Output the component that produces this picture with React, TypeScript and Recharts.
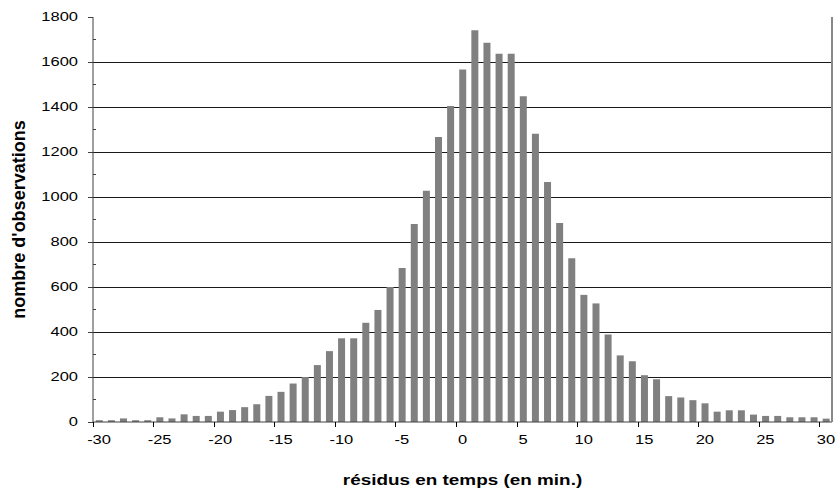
import React from 'react';
import { BarChart, Bar, XAxis, YAxis, CartesianGrid, Label } from 'recharts';

// residual (minutes) for each bar
const residuals = [
  -30, -29, -28, -27, -26, -25, -24, -23, -22, -21, -20, -19, -18, -17, -16, -15, -14, -13, -12, -11, -10,
  -9, -8, -7, -6, -5, -4, -3, -2, -1, 0, 1, 2, 3, 4, 5, 6, 7, 8, 9, 10,
  11, 12, 13, 14, 15, 16, 17, 18, 19, 20, 21, 22, 23, 24, 25, 26, 27, 28, 29, 30,
];

// number of observations per residual
const observations = [
  8, 8, 16, 8, 8, 21, 16, 34, 27, 27, 46, 53, 66, 79, 116, 134, 171, 200, 253, 315, 372,
  372, 441, 498, 600, 684, 880, 1028, 1267, 1404, 1567, 1741, 1686, 1637, 1637, 1448, 1281, 1067, 885, 728, 565,
  527, 389, 296, 270, 208, 190, 115, 109, 97, 83, 46, 52, 52, 33, 27, 27, 21, 21, 21, 15,
];

const yTicks = [0, 100, 200, 300, 400, 500, 600, 700, 800, 900, 1000, 1100, 1200, 1300, 1400, 1500, 1600, 1700, 1800];
const gridValues = [200, 400, 600, 800, 1000, 1200, 1400, 1600];

const data = residuals.map((r, i) => ({ x: r, n: observations[i] }));

const FONT = '"Liberation Sans", Arial, sans-serif';
const STRETCH = 1.27;

const YTick = (props: any) => {
  const { x, y, payload } = props;
  const v = payload.value;
  if (v % 200 !== 0) {
    return <line x1={x} x2={x + 3} y1={y} y2={y} stroke="#404040" shapeRendering="crispEdges" />;
  }
  return (
    <g>
      <line x1={x - 5} x2={x} y1={y} y2={y} stroke="#404040" shapeRendering="crispEdges" />
      <text
        transform={`translate(${x - 15},${y}) scale(${STRETCH},1)`}
        textAnchor="end"
        dominantBaseline="central"
        fontFamily={FONT}
        fontSize={13}
        fill="#000"
      >
        {v}
      </text>
    </g>
  );
};

const XTick = (props: any) => {
  const { x, y, payload } = props;
  const half = payload.offset ?? 6.05;
  return (
    <g>
      <line x1={x - half} x2={x - half} y1={y} y2={y + 5} stroke="#000" shapeRendering="crispEdges" />
      <text
        transform={`translate(${x},${y + 18}) scale(${STRETCH},1)`}
        textAnchor="middle"
        dominantBaseline="central"
        fontFamily={FONT}
        fontSize={13}
        fill="#000"
      >
        {payload.value}
      </text>
    </g>
  );
};

const XTitle = (props: any) => {
  const vb = props.viewBox;
  return (
    <text
      transform={`translate(${vb.x + vb.width / 2},${vb.y + 58}) scale(1.35,1)`}
      textAnchor="middle"
      dominantBaseline="central"
      fontFamily={FONT}
      fontSize={14}
      fontWeight="bold"
      fill="#000"
    >
      résidus en temps (en min.)
    </text>
  );
};

const YTitle = (props: any) => {
  const vb = props.viewBox;
  return (
    <text
      transform={`translate(${vb.x + 19},${vb.y + vb.height / 2}) rotate(-90)`}
      textAnchor="middle"
      dominantBaseline="central"
      fontFamily={FONT}
      fontSize={18}
      fontWeight="bold"
      fill="#000"
    >
      nombre d'observations
    </text>
  );
};

export default function App() {
  return (
    <div style={{ position: 'absolute', left: 0, top: 0, background: '#fff' }}>
      <BarChart
        width={840}
        height={495}
        data={data}
        margin={{ top: 17, right: 0, bottom: 0, left: 0 }}
        barCategoryGap="23%"
      >
        <CartesianGrid vertical={false} horizontalValues={gridValues} stroke="#1a1a1a" shapeRendering="crispEdges" />
        <XAxis
          dataKey="x"
          interval={4}
          height={73}
          tickSize={0}
          tickMargin={0}
          tickLine={false}
          axisLine={{ stroke: '#404040' }}
          tick={<XTick />}
        >
          <Label content={<XTitle />} />
        </XAxis>
        <XAxis xAxisId="top" dataKey="x" orientation="top" height={0} tick={false} tickLine={false} axisLine={{ stroke: '#bbbbbb', strokeWidth: 2 }} />
        <YAxis
          domain={[0, 1800]}
          ticks={yTicks}
          interval={0}
          width={93}
          tickSize={0}
          tickMargin={0}
          tickLine={false}
          axisLine={{ stroke: '#404040' }}
          tick={<YTick />}
        >
          <Label content={<YTitle />} />
        </YAxis>
        <YAxis yAxisId="right" orientation="right" domain={[0, 1800]} width={8} tick={false} tickLine={false} axisLine={{ stroke: '#888888', strokeWidth: 2 }} />
        <Bar dataKey="n" fill="#808080" isAnimationActive={false} />
      </BarChart>
    </div>
  );
}
